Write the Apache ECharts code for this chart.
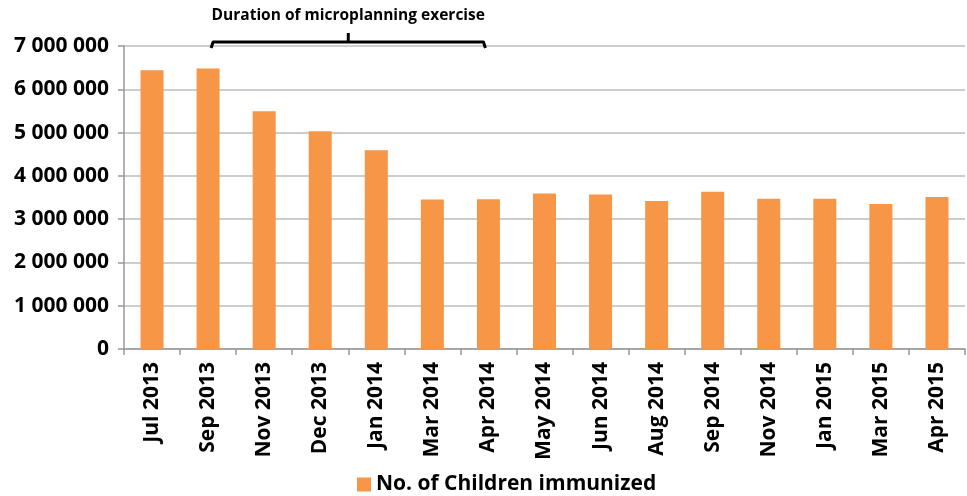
<!DOCTYPE html>
<html>
<head>
<meta charset="utf-8">
<script src="https://cdn.jsdelivr.net/npm/echarts@6/dist/echarts.min.js"></script>
<style>
  html, body { margin: 0; padding: 0; background: #fff; }
  #chart { width: 967px; height: 496px; }
</style>
</head>
<body>
<div id="chart"></div>
<script>
const categories = ['Jul 2013', 'Sep 2013', 'Nov 2013', 'Dec 2013', 'Jan 2014', 'Mar 2014', 'Apr 2014', 'May 2014',
    'Jun 2014', 'Aug 2014', 'Sep 2014', 'Nov 2014', 'Jan 2015', 'Mar 2015', 'Apr 2015']
const immunized = [6440000, 6480000, 5490000, 5030000, 4590000, 3455000, 3460000, 3590000,
    3570000, 3420000, 3630000, 3470000, 3470000, 3350000, 3510000]
const seriesName = 'No. of Children immunized'
const bracketLabel = 'Duration of microplanning exercise'
const bracketFrom = 'Sep 2013'
const bracketTo = 'Apr 2014'

const font = '"Open Sans", Lato, sans-serif'
const fmt = (v) => String(v).replace(/\B(?=(\d{3})+(?!\d))/g, ' ')

const myChart = echarts.init(document.getElementById('chart'))
const option = {
    backgroundColor: '#fff',
    animation: false,
    grid: { left: 124, right: 2, top: 46, bottom: 147 },
    legend: {
        data: [seriesName],
        top: 469,
        left: 352,
        icon: 'rect',
        itemWidth: 14,
        itemHeight: 14,
        itemGap: 8,
        textStyle: { color: '#000', fontSize: 21, fontWeight: 'bold', fontFamily: font },
    },
    xAxis: {
        type: 'category',
        data: categories,
        axisLine: { lineStyle: { color: '#999', width: 1.5 } },
        axisTick: { show: true, length: 6, lineStyle: { color: '#999', width: 1.5 } },
        axisLabel: {
            rotate: 90,
            interval: 0,
            margin: 13,
            color: '#000',
            fontSize: 21,
            fontWeight: 'bold',
            fontFamily: font,
        },
    },
    yAxis: {
        type: 'value',
        min: 0,
        max: 7000000,
        interval: 1000000,
        axisLine: { show: true, lineStyle: { color: '#999', width: 1.5 } },
        axisTick: { show: true, length: 6, lineStyle: { color: '#999', width: 1.5 } },
        splitLine: { lineStyle: { color: '#bdbdbd', width: 1.5 } },
        axisLabel: {
            margin: 15,
            color: '#000',
            fontSize: 21,
            fontWeight: 'bold',
            fontFamily: font,
            formatter: fmt,
        },
    },
    series: [
        {
            name: seriesName,
            type: 'bar',
            barWidth: 23,
            itemStyle: { color: '#F79646' },
            data: immunized,
        },
    ],
}
myChart.setOption(option)

// bracket above the bars for the microplanning period
const x1 = myChart.convertToPixel({ xAxisIndex: 0 }, bracketFrom) + 3
const x2 = myChart.convertToPixel({ xAxisIndex: 0 }, bracketTo) - 3
const yTop = myChart.convertToPixel({ yAxisIndex: 0 }, 7000000) - 4
const xm = (x1 + x2) / 2
myChart.setOption({
    graphic: [
        {
            type: 'polyline',
            shape: { points: [[x1, yTop + 6], [x1 + 2, yTop], [x2 - 2, yTop], [x2, yTop + 6]] },
            style: { stroke: '#000', lineWidth: 3, fill: null, lineJoin: 'round' },
        },
        {
            type: 'line',
            shape: { x1: xm, y1: yTop, x2: xm, y2: yTop - 9 },
            style: { stroke: '#000', lineWidth: 3 },
        },
        {
            type: 'text',
            x: xm,
            y: 16,
            style: {
                text: bracketLabel,
                align: 'center',
                verticalAlign: 'middle',
                fill: '#000',
                font: 'bold 15.5px ' + font,
            },
        },
    ],
})
</script>
</body>
</html>
